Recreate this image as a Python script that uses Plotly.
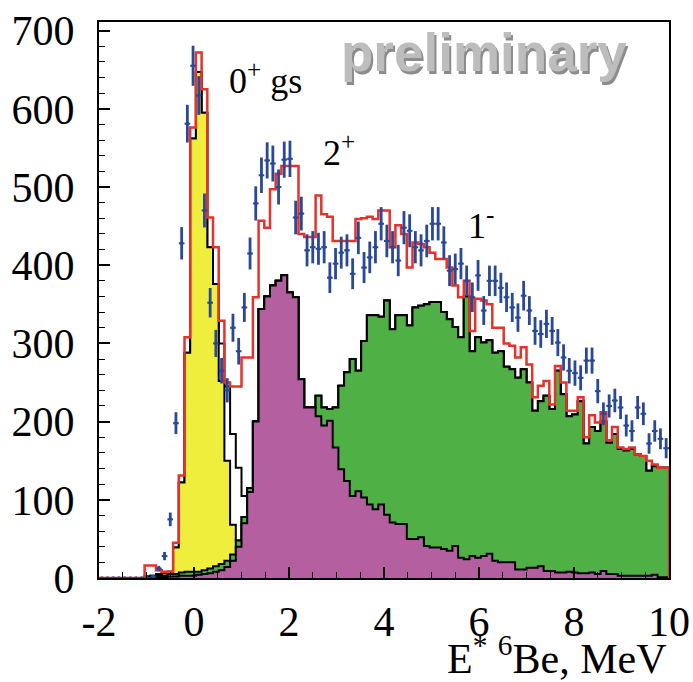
import plotly.graph_objects as go

# ---------------- data (bins of 0.12 MeV from -2 to 10) ----------------
bin_lo = -2.0
bin_w = 0.12
n_bins = 100

data_counts = [0,0,0,0,0,0,0,0,0,2,
               12,28,75,198,428,581,655,617,470,352,
               300,265,240,320,290,346,415,479,515,534,
               530,500,535,536,461,466,419,423,421,423,
               384,402,416,419,389,435,397,410,423,453,
               431,423,406,448,444,423,419,431,453,453,
               429,393,395,402,380,359,387,342,380,380,
               371,359,346,333,361,342,316,312,325,316,
               301,282,265,262,256,278,278,239,210,220,
               227,218,195,188,218,210,172,188,178,166]

data_err = [0,0,0,0,0,0,0,0,0,1.4,
            3.5,5.3,8.7,14,20.7,24.1,25.6,24.8,21.7,18.8,
            17.3,16.3,15.5,17.9,17,18.6,20.4,21.9,22.7,23.1,
            23,22.4,23.1,23.2,21.5,21.6,20.5,20.6,20.5,20.6,
            19.6,20,20.4,20.5,19.7,20.9,19.9,20.2,20.6,21.3,
            20.8,20.6,20.1,21.2,21.1,20.6,20.5,20.8,21.3,21.3,
            20.7,19.8,19.9,20,19.5,18.9,19.7,18.5,19.5,19.5,
            19.3,18.9,18.6,18.2,19,18.5,17.8,17.7,18,17.8,
            17.3,16.8,16.3,16.2,16,16.7,16.7,15.5,14.5,14.8,
            15.1,14.8,14,13.7,14.8,14.5,13.1,13.7,13.3,12.9]

fit_total = [0,0,0,0,0,0,0,0,16,16,
             10,8,8,45,131,308,576,672,625,461,
             423,329,250,245,245,282,282,359,457,448,
             497,517,527,527,527,440,436,436,489,465,
             462,431,431,431,431,459,460,462,459,470,
             470,423,451,440,397,429,427,423,416,408,
             408,397,374,359,380,316,357,355,350,320,
             320,300,297,282,295,273,231,246,252,222,
             271,250,214,214,231,180,208,199,212,176,
             193,167,165,167,158,156,150,145,141,141]

state_2plus = [0,0,0,0,0,0,0,0,0,0,
               1,1,2,2,3,3,3,4,5,6,
               8,10,14,22,40,70,110,200,344,360,
               374,380,387,365,359,254,218,218,207,195,
               201,167,139,124,105,111,103,94,88,94,
               81,71,69,69,50,50,52,41,39,39,
               37,35,41,26,24,28,26,28,31,22,
               20,20,20,11,11,13,13,15,9,9,
               7,7,8,7,6,6,7,5,9,5,
               5,3,3,3,3,3,3,4,1,1]

state_1minus = [0,0,0,0,0,0,0,0,0,1,
                2,2,3,3,4,5,5,4,5,6,
                7,8,8,8,8,8,5,0,0,0,
                0,0,0,0,0,0,0,0,26,23,
                15,51,107,139,175,154,200,242,248,240,
                274,247,267,267,273,296,296,309,314,314,
                303,296,280,282,336,262,282,273,273,266,
                270,250,247,245,256,237,201,211,224,207,
                258,228,199,202,220,166,186,183,191,168,
                179,162,160,162,155,153,134,139,140,140]

state_0gs = [0,0,0,0,0,0,0,0,2,2,
             2,3,3,34,115,280,554,639,585,411,
             361,234,128,38,0,0,0,0,0,0,
             0,0,0,0,0,0,0,0,0,0,
             0,0,0,0,0,0,0,0,0,0,
             0,0,0,0,0,0,0,0,0,0,
             0,0,0,0,0,0,0,0,0,0,
             0,0,0,0,0,0,0,0,0,0,
             0,0,0,0,0,0,0,0,0,0,
             0,0,0,0,0,0,0,0,0,0]

state_other = [0,0,0,0,0,0,0,0,0,0,
               0,0,0,0,0,0,0,0,0,0,
               0,48,95,116,93,27,0,0,0,0,
               0,0,0,0,0,0,0,0,0,0,
               0,0,0,0,0,0,0,0,0,0,
               0,0,0,0,0,0,0,0,0,0,
               0,0,0,0,0,0,0,0,0,0,
               0,0,0,0,0,0,0,0,0,0,
               0,0,0,0,0,0,0,0,0,0,
               0,0,0,0,0,0,0,0,0,0]

x_ticks = [-2, 0, 2, 4, 6, 8, 10]
y_ticks = [0, 100, 200, 300, 400, 500, 600, 700]

# ---------------- derived geometry ----------------
edges = [bin_lo + bin_w * k for k in range(n_bins + 1)]
centers = [bin_lo + bin_w * (k + 0.5) for k in range(n_bins)]

cum1 = list(state_2plus)
cum2 = [a + b for a, b in zip(cum1, state_1minus)]
cum3 = [a + b for a, b in zip(cum2, state_0gs)]
cum4 = [a + b for a, b in zip(cum3, state_other)]

def step(vals):
    return list(vals) + [vals[-1]]

YELLOW = "#f0ee3c"
MAGENTA = "#b45fa0"
GREEN = "#4fb046"
RED = "#e5322a"
BLUE = "#2a4898"

fig = go.Figure()
for cum, col in [(cum4, "white"), (cum3, YELLOW), (cum2, GREEN), (cum1, MAGENTA)]:
    fig.add_trace(go.Scatter(x=edges, y=step(cum), mode="lines", line_shape="hv",
                             line=dict(color="black", width=2), fill="tozeroy",
                             fillcolor=col, showlegend=False, hoverinfo="skip"))

fig.add_trace(go.Scatter(x=[bin_lo] + edges + [edges[-1]], y=[0] + step(fit_total) + [0],
                         mode="lines", line_shape="hv",
                         line=dict(color=RED, width=2.5), showlegend=False))

fig.add_trace(go.Scatter(x=centers, y=data_counts, mode="markers",
                         marker=dict(color=BLUE, size=3.5),
                         error_y=dict(type="data", array=data_err, color=BLUE, thickness=2.8, width=0),
                         error_x=dict(type="constant", value=bin_w / 2, color=BLUE, thickness=2, width=0),
                         showlegend=False))

serif = "Liberation Serif, Times New Roman, serif"
tick_font = dict(family=serif, size=42, color="black")
fig.update_xaxes(range=[-2, 10], tickvals=x_ticks, ticktext=[str(v) for v in x_ticks],
                 showline=True, linecolor="black", linewidth=2, mirror=True, automargin=False,
                 ticks="inside", ticklen=11, tickwidth=1.5, tickcolor="black",
                 minor=dict(ticks="inside", ticklen=6, dtick=0.5, tickcolor="black", tickwidth=1.2),
                 showgrid=False, zeroline=False, tickfont=tick_font, ticklabelstandoff=6)
fig.update_yaxes(range=[0, 711], tickvals=y_ticks, ticktext=[str(v) for v in y_ticks],
                 showline=True, linecolor="black", linewidth=2, mirror=True, automargin=False,
                 ticks="inside", ticklen=11, tickwidth=1.5, tickcolor="black",
                 minor=dict(ticks="inside", ticklen=6, dtick=20, tickcolor="black", tickwidth=1.2),
                 showgrid=False, zeroline=False, tickfont=tick_font, ticklabelstandoff=14)

ann = [
    dict(x=0.69, y=639, text="0<sup>+</sup> gs"),
    dict(x=2.67, y=547, text="2<sup>+</sup>"),
    dict(x=5.72, y=453, text="1<sup>-</sup>"),
]
for a in ann:
    fig.add_annotation(xref="x", yref="y", showarrow=False, xanchor="left", yanchor="middle",
                       font=dict(family=serif, size=36, color="black"), **a)

# "preliminary" watermark with shadow
fig.add_annotation(xref="x", yref="y", x=6.1, y=672, text="<b>preliminary</b>", showarrow=False,
                   font=dict(family="Liberation Sans, Arial, sans-serif", size=53, color="#8c8c8c"),
                   xshift=2, yshift=-3)
fig.add_annotation(xref="x", yref="y", x=6.1, y=672, text="<b>preliminary</b>", showarrow=False,
                   font=dict(family="Liberation Sans, Arial, sans-serif", size=53, color="#bdbdbd"))

fig.add_annotation(xref="paper", yref="paper", x=1.0, y=0, xanchor="right", yanchor="middle",
                   yshift=-77, xshift=0, showarrow=False,
                   text="E<sup>*</sup> <sup>6</sup>Be, MeV", font=dict(family=serif, size=42, color="black"))

fig.update_layout(width=693, height=682, margin=dict(l=99, r=24, t=22, b=104),
                  plot_bgcolor="white", paper_bgcolor="white")

fig.write_html("out.html")
